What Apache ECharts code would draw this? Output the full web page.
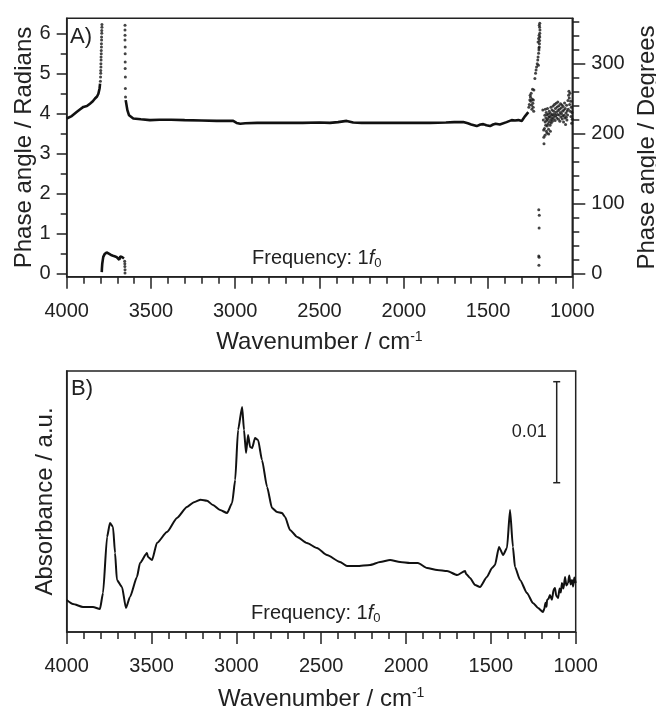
<!DOCTYPE html>
<html><head><meta charset="utf-8">
<script src="https://cdn.jsdelivr.net/npm/echarts@6/dist/echarts.min.js"></script>
<style>html,body{margin:0;padding:0;background:#fff}#c{width:656px;height:709px}</style>
</head><body><div id="c"></div><script>
// ---- Data (wavenumber / cm-1, value) ----
const xTicks = [1000, 1500, 2000, 2500, 3000, 3500, 4000];
const radTicks = [0, 1, 2, 3, 4, 5, 6];
const radMinorTicks = [0.5, 1.5, 2.5, 3.5, 4.5, 5.5];
const degTicks = [0, 100, 200, 300];
const degMinorTicks = [20, 40, 60, 80, 120, 140, 160, 180, 220, 240, 260, 280, 320, 340, 360];

// Panel A: phase angle (radians), dense parts drawn as lines
const phaseSeg1 = [[4000,3.87],[3970,3.93],[3941,4.03],[3920,4.10],[3901,4.16],[3880,4.18],[3862,4.24],[3845,4.30],[3832,4.37],[3820,4.42],[3812,4.49],[3805,4.62],[3802,4.74]];
const phaseSeg2 = [[3792,0.03],[3791,0.12],[3789,0.24],[3786,0.33],[3783,0.41],[3775,0.48],[3763,0.52],[3750,0.49],[3733,0.45],[3720,0.43],[3705,0.41],[3695,0.38],[3688,0.34],[3682,0.42],[3676,0.45],[3670,0.40],[3665,0.43],[3660,0.37]];
const phaseSeg3 = [[3650,4.33],[3647,4.28],[3640,4.08],[3630,3.95],[3620,3.90],[3605,3.87],[3560,3.85],[3506,3.83],[3450,3.84],[3380,3.84],[3300,3.83],[3200,3.82],[3110,3.81],[3050,3.81],[3012,3.81],[2992,3.76],[2970,3.74],[2940,3.75],[2870,3.76],[2800,3.76],[2700,3.76],[2600,3.76],[2500,3.77],[2438,3.76],[2390,3.78],[2339,3.81],[2300,3.77],[2250,3.76],[2150,3.76],[2042,3.76],[1950,3.76],[1844,3.76],[1750,3.77],[1700,3.78],[1647,3.78],[1620,3.75],[1600,3.72],[1567,3.68],[1545,3.72],[1528,3.73],[1510,3.70],[1488,3.68],[1470,3.72],[1455,3.74],[1430,3.72],[1420,3.70],[1390,3.78],[1360,3.83],[1340,3.82],[1320,3.83],[1300,3.81],[1290,3.85],[1280,3.93],[1270,3.98],[1261,4.03]];
// sparse / noisy points drawn as dots
const phaseDots = [
 [3800,4.80],[3799,4.91],[3798,5.00],[3798,5.07],[3797,5.16],[3797,5.24],[3796,5.33],[3796,5.41],[3795,5.49],[3795,5.57],[3794,5.66],[3794,5.74],[3793,5.83],[3793,5.91],[3792,6.00],[3792,6.07],[3791,6.15],[3791,6.22],
 [3656,0.30],[3655,0.24],[3655,0.17],[3654,0.09],[3654,0.01],
 [3654,6.20],[3654,6.08],[3654,5.95],[3654,5.83],[3653,5.66],[3653,5.49],[3653,5.28],[3653,5.12],[3652,4.91],[3652,4.62],[3651,4.41],
 [1258,4.15],[1255,4.22],[1252,4.33],[1250,4.45],[1248,4.40],[1246,4.30],[1244,4.50],[1242,4.20],[1240,4.10],[1238,4.35],[1236,4.60],[1234,4.25],[1232,4.15],[1231,4.33],[1229,4.05],
 [1228,4.58],[1222,4.87],[1218,5.00],[1215,5.08],[1212,5.16],[1208,5.24],[1205,5.33],[1203,5.41],[1200,5.50],[1198,5.58],[1196,5.66],[1195,5.74],[1194,5.82],[1193,5.91],[1193,6.00],[1192,6.08],[1194,6.15],[1196,6.20],[1193,6.25],[1197,5.95],[1200,5.87],[1203,5.78],[1198,5.63],[1201,5.20],
 [1199,1.59],[1196,1.45],[1197,1.13],[1199,0.43],[1197,0.40],[1198,0.20],
 [1175,4.08],[1172,3.83],[1170,3.58],[1168,3.24],[1169,3.40],
 [1165,3.62],[1163,3.95],[1162,3.45],[1161,3.78],[1160,4.10],[1158,3.70],[1157,3.88],[1155,4.02],[1154,3.55],[1152,3.82],[1150,3.96],[1150,3.50],[1149,3.68],[1147,4.12],[1146,3.85],[1144,3.74],[1142,3.98],[1141,3.60],[1140,3.48],[1139,3.90],[1137,4.05],[1136,3.79],[1134,3.92],[1132,3.70],[1130,4.00],[1130,3.55],[1128,3.84],[1127,4.15],[1125,3.76],[1123,3.95],[1121,3.88],[1120,4.08],[1118,3.80],[1116,3.97],[1114,4.18],[1112,3.86],[1110,4.05],[1108,3.92],[1106,4.22],[1104,3.99],[1102,3.82],[1100,4.12],[1098,3.94],[1096,4.25],[1094,4.03],[1092,3.88],[1090,4.16],[1088,3.97],[1086,4.28],[1084,4.07],[1082,3.85],[1080,4.19],[1078,3.96],[1076,4.10],[1074,3.80],[1072,4.02],[1070,4.24],[1068,3.91],[1066,4.13],[1064,3.99],[1062,4.21],[1060,3.86],[1058,4.05],[1056,3.93],[1054,4.17],[1052,3.78],[1050,4.08],[1048,3.95],[1046,4.26],[1044,3.88],[1042,4.12],[1040,3.72],[1038,4.01],[1036,3.90],[1034,4.20],[1032,3.83],[1030,4.06],[1028,3.96],[1026,4.32],[1024,4.10],[1022,4.45],[1020,4.55],[1018,4.38],[1016,4.22],[1014,4.50],[1012,4.05],[1010,4.30],[1008,3.92],[1006,4.15],[1004,3.75],[1002,4.02],[1000,3.85]
];

// Panel B: absorbance (units of 1e-3, arbitrary offset)
const absorbance = [[4000,3.17],[3963,2.77],[3904,2.48],[3845,2.48],[3804,2.28],[3786,3.86],[3762,9.41],[3745,10.79],[3727,10.40],[3715,7.82],[3704,5.15],[3674,4.46],[3651,2.38],[3627,3.47],[3586,5.45],[3568,6.83],[3527,7.82],[3521,7.43],[3497,7.13],[3468,8.81],[3409,9.90],[3350,11.29],[3291,12.38],[3250,12.85],[3210,13.10],[3173,13.00],[3138,12.57],[3096,12.08],[3055,11.78],[3025,12.77],[3007,15.05],[2990,20.0],[2966,22.28],[2955,20.0],[2943,17.72],[2931,19.50],[2919,18.32],[2907,18.22],[2890,19.21],[2872,19.01],[2849,17.03],[2819,14.36],[2790,12.28],[2760,11.88],[2731,11.78],[2713,11.39],[2684,10.10],[2642,9.41],[2584,8.81],[2525,8.32],[2466,7.62],[2389,6.93],[2348,6.53],[2289,6.53],[2212,6.63],[2153,6.93],[2094,7.13],[2035,6.93],[1977,6.83],[1930,6.83],[1876,6.34],[1817,6.14],[1758,6.04],[1699,5.64],[1652,6.04],[1646,5.74],[1623,5.35],[1593,4.65],[1564,4.46],[1523,5.45],[1493,6.34],[1476,6.63],[1452,8.42],[1428,7.62],[1405,8.32],[1387,12.08],[1370,8.42],[1358,6.44],[1328,5.15],[1287,3.86],[1252,2.87],[1222,2.38],[1193,1.98],[1185,2.30],[1178,2.90],[1172,2.50],[1169,3.17],[1160,3.30],[1152,3.66],[1140,3.20],[1130,4.20],[1122,4.36],[1115,3.60],[1104,3.37],[1095,4.30],[1088,3.90],[1081,4.85],[1072,4.30],[1063,5.45],[1055,4.60],[1045,4.85],[1038,5.60],[1030,4.70],[1022,5.15],[1015,4.50],[1008,5.40],[1000,4.85]];
// scale bar: [wavenumber, from, to] representing 0.01 absorbance (10 in data units)
const scaleBar = [[1112, 14.78, 24.78]];
const scaleLabel = '0.01';

// ---- Chart ----
const FONT = "'Liberation Sans', Arial, sans-serif";
const INK = '#222';
const plain = v => String(v);
const chart = echarts.init(document.getElementById('c'));

function xAxisCfg(grid) {
  return {
    gridIndex: grid, type: 'value', min: 1000, max: 4000, interval: 500, inverse: true,
    axisLine: {show: true, onZero: false, lineStyle: {color: INK, width: 1.5}},
    axisTick: {show: true, length: 12, lineStyle: {color: INK, width: 1.5}},
    minorTick: {show: true, splitNumber: 5, length: 7, lineStyle: {color: INK, width: 1.5}},
    axisLabel: {fontSize: 20, margin: grid === 0 ? 25 : 24, color: INK, fontFamily: FONT, showMinLabel: true, showMaxLabel: true, formatter: plain},
    splitLine: {show: false}, minorSplitLine: {show: false},
    name: 'Wavenumber / cm{sup|-1}', nameLocation: 'middle', nameGap: grid === 0 ? 53 : 54,
    nameTextStyle: {fontSize: 24, color: INK, fontFamily: FONT, lineHeight: 26,
      rich: {sup: {fontSize: 14, lineHeight: 14, verticalAlign: 'top', color: INK, fontFamily: FONT}}}
  };
}

const freqRich = {
  a: {fontSize: 20, lineHeight: 24, fill: INK, fontFamily: FONT},
  i: {fontSize: 20, lineHeight: 24, fontStyle: 'italic', fill: INK, fontFamily: FONT},
  s: {fontSize: 13, lineHeight: 13, verticalAlign: 'bottom', fill: INK, fontFamily: FONT}
};

const option = {
  animation: false,
  backgroundColor: '#fff',
  grid: [
    {left: 66.7, top: 18.3, width: 505.6, height: 258.4, outerBoundsMode: 'none', containLabel: false, show: true, borderColor: INK, borderWidth: 1.5, backgroundColor: 'transparent'},
    {left: 66.7, top: 371, width: 509, height: 261, outerBoundsMode: 'none', containLabel: false, show: true, borderColor: INK, borderWidth: 1.5, backgroundColor: 'transparent'}
  ],
  xAxis: [xAxisCfg(0), xAxisCfg(1)],
  yAxis: [
    { gridIndex: 0, type: 'value', position: 'left', min: -0.085, max: 6.375,
      axisLine: {show: true, onZero: false, lineStyle: {color: INK, width: 1.5}},
      axisTick: {show: true, length: 10, customValues: radTicks, lineStyle: {color: INK, width: 1.5}},
      axisLabel: {customValues: radTicks, fontSize: 20, margin: 16, color: INK, fontFamily: FONT, formatter: plain},
      splitLine: {show: false},
      name: 'Phase angle / Radians', nameLocation: 'middle', nameGap: 30, nameRotate: 90, nameMoveOverlap: false,
      nameTextStyle: {fontSize: 24, color: INK, fontFamily: FONT}
    },
    { gridIndex: 0, type: 'value', position: 'right', min: -4.87, max: 365.26,
      axisLine: {show: true, onZero: false, lineStyle: {color: INK, width: 1.5}},
      axisTick: {show: true, length: 13, customValues: degTicks, lineStyle: {color: INK, width: 1.5}},
      axisLabel: {customValues: degTicks, fontSize: 20, margin: 19, color: INK, fontFamily: FONT, formatter: plain},
      splitLine: {show: false},
      name: 'Phase angle / Degrees', nameLocation: 'middle', nameGap: 62, nameRotate: 90,
      nameTextStyle: {fontSize: 24, color: INK, fontFamily: FONT}
    },
    { gridIndex: 0, type: 'value', position: 'left', min: -0.085, max: 6.375,
      axisLine: {show: false},
      axisTick: {show: true, length: 6, customValues: radMinorTicks, lineStyle: {color: INK, width: 1.5}},
      axisLabel: {show: false}, splitLine: {show: false}
    },
    { gridIndex: 0, type: 'value', position: 'right', min: -4.87, max: 365.26,
      axisLine: {show: false},
      axisTick: {show: true, length: 7, customValues: degMinorTicks, lineStyle: {color: INK, width: 1.5}},
      axisLabel: {show: false}, splitLine: {show: false}
    },
    { gridIndex: 1, type: 'value', min: 0, max: 25.84,
      axisLine: {show: true, onZero: false, lineStyle: {color: INK, width: 1.5}},
      axisTick: {show: false}, axisLabel: {show: false}, splitLine: {show: false},
      name: 'Absorbance / a.u.', nameLocation: 'middle', nameGap: 9, nameRotate: 90,
      nameTextStyle: {fontSize: 24, color: INK, fontFamily: FONT}
    }
  ],
  series: [
    {type: 'line', xAxisIndex: 0, yAxisIndex: 0, data: phaseSeg1, symbol: 'none', lineStyle: {color: '#111', width: 2.6}},
    {type: 'line', xAxisIndex: 0, yAxisIndex: 0, data: phaseSeg2, symbol: 'none', lineStyle: {color: '#111', width: 2.6}},
    {type: 'line', xAxisIndex: 0, yAxisIndex: 0, data: phaseSeg3, symbol: 'none', lineStyle: {color: '#111', width: 2.6}},
    {type: 'scatter', xAxisIndex: 0, yAxisIndex: 0, data: phaseDots, symbolSize: 3, itemStyle: {color: '#151515'}},
    {type: 'line', xAxisIndex: 1, yAxisIndex: 4, data: absorbance, symbol: 'none', smooth: 0.2, smoothMonotone: 'x', lineStyle: {color: '#111', width: 2}},
    {type: 'custom', xAxisIndex: 1, yAxisIndex: 4, data: scaleBar,
      renderItem: function (params, api) {
        const a = api.coord([api.value(0), api.value(1)]);
        const b = api.coord([api.value(0), api.value(2)]);
        const st = {stroke: INK, lineWidth: 1.5};
        return {type: 'group', children: [
          {type: 'line', shape: {x1: a[0], y1: a[1], x2: b[0], y2: b[1]}, style: st},
          {type: 'line', shape: {x1: a[0]-3.5, y1: a[1], x2: a[0]+3.5, y2: a[1]}, style: st},
          {type: 'line', shape: {x1: b[0]-3.5, y1: b[1], x2: b[0]+3.5, y2: b[1]}, style: st},
          {type: 'text', x: a[0] - 10, y: (a[1] + b[1]) / 2, style: {text: scaleLabel, fill: INK, font: '18px ' + FONT, align: 'right', verticalAlign: 'middle'}}
        ]};
      }
    }
  ],
  graphic: [
    {type: 'text', left: 70, top: 26, style: {text: 'A)', fill: INK, font: '22px ' + FONT}},
    {type: 'text', left: 71, top: 378, style: {text: 'B)', fill: INK, font: '22px ' + FONT}},
    {type: 'text', left: 252, top: 248, style: {text: '{a|Frequency: 1}{i|f}{s|0}', rich: freqRich}},
    {type: 'text', left: 251, top: 603, style: {text: '{a|Frequency: 1}{i|f}{s|0}', rich: freqRich}}
  ]
};
chart.setOption(option);
</script></body></html>
